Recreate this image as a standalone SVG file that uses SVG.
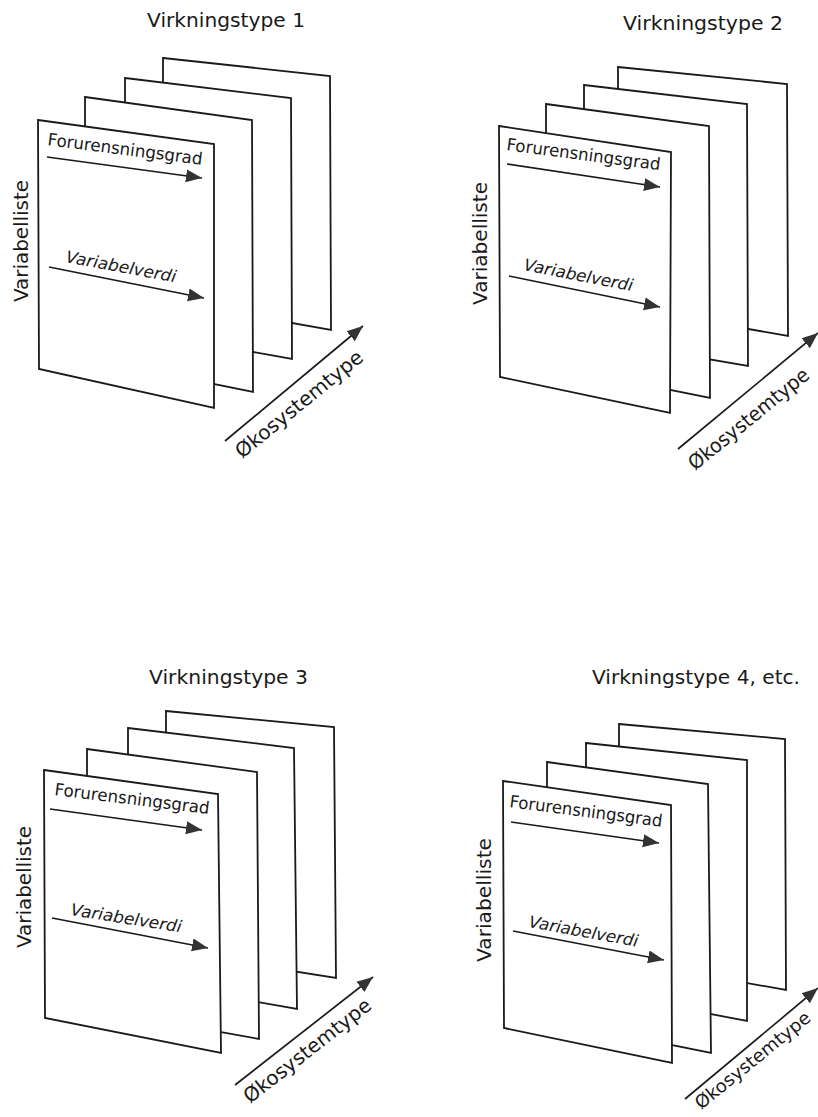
<svg xmlns="http://www.w3.org/2000/svg" width="818" height="1117" viewBox="0 0 818 1117">
<style>
.sheet{fill:#fff;stroke:#1a1a1a;stroke-width:1.8;stroke-linejoin:miter}
.title{font-family:"DejaVu Sans",sans-serif;font-size:19px;fill:#1a1a1a}
.vl{font-family:"DejaVu Sans",sans-serif;font-size:20px;fill:#1a1a1a}
.fg{font-family:"DejaVu Sans",sans-serif;font-size:17px;fill:#1a1a1a}
.vv{font-family:"DejaVu Sans",sans-serif;font-size:16.5px;font-style:italic;fill:#1a1a1a}
.ax{font-family:"DejaVu Sans",sans-serif;font-size:20px;fill:#1a1a1a}
.arr{fill:none;stroke:#1a1a1a;stroke-width:1.7;marker-end:url(#ah)}
</style>
<defs>
<marker id="ah" markerUnits="userSpaceOnUse" markerWidth="18" markerHeight="15" refX="16" refY="7.5" orient="auto">
<path d="M0,1 L16,7.5 L0,14 Z" fill="#333"/>
</marker>
</defs>
<rect width="818" height="1117" fill="#fff"/>

<g id="panel1">
<text class="title" x="147" y="27" textLength="158" lengthAdjust="spacingAndGlyphs">Virkningstype 1</text>
<polygon class="sheet" points="163,58 330,76 331,330 163,300"/>
<polygon class="sheet" points="125,78 291,98 292,359 125,329"/>
<polygon class="sheet" points="85,97 252,120 253,392 85,358"/>
<polygon class="sheet" points="38,120 214,144 214,408 39,369"/>
<text class="fg" transform="translate(47,145) rotate(7.3)" textLength="156" lengthAdjust="spacingAndGlyphs">Forurensningsgrad</text>
<text class="vv" transform="translate(65,262) rotate(10.5)" textLength="112" lengthAdjust="spacingAndGlyphs">Variabelverdi</text>
<text class="vl" transform="translate(28,302) rotate(-90)" textLength="122" lengthAdjust="spacingAndGlyphs">Variabelliste</text>
<text class="ax" transform="translate(242,459) rotate(-39)" textLength="158" lengthAdjust="spacingAndGlyphs">Økosystemtype</text>
</g>

<g id="panel2">
<text class="title" x="623" y="30" textLength="160" lengthAdjust="spacingAndGlyphs">Virkningstype 2</text>
<polygon class="sheet" points="618,67 787,84 788,336 618,306"/>
<polygon class="sheet" points="584,85 747,104 748,366 584,338"/>
<polygon class="sheet" points="546,104 709,126 710,398 546,365"/>
<polygon class="sheet" points="499,126 671,152 670,413 500,377"/>
<text class="fg" transform="translate(506,150) rotate(7.5)" textLength="155" lengthAdjust="spacingAndGlyphs">Forurensningsgrad</text>
<text class="vv" transform="translate(523,270) rotate(11)" textLength="111" lengthAdjust="spacingAndGlyphs">Variabelverdi</text>
<text class="vl" transform="translate(487,305) rotate(-90)" textLength="123" lengthAdjust="spacingAndGlyphs">Variabelliste</text>
<text class="ax" transform="translate(695,471) rotate(-39)" textLength="149" lengthAdjust="spacingAndGlyphs">Økosystemtype</text>
</g>

<g id="panel3">
<text class="title" x="149" y="684" textLength="159" lengthAdjust="spacingAndGlyphs">Virkningstype 3</text>
<polygon class="sheet" points="166,711 334,727 336,978 166,951"/>
<polygon class="sheet" points="128,728 294,748 297,1009 128,979"/>
<polygon class="sheet" points="87,749 257,772 259,1039 87,1008"/>
<polygon class="sheet" points="44,770 218,794 221,1053 45,1018"/>
<text class="fg" transform="translate(54,795) rotate(7)" textLength="156" lengthAdjust="spacingAndGlyphs">Forurensningsgrad</text>
<text class="vv" transform="translate(70,915) rotate(9)" textLength="112" lengthAdjust="spacingAndGlyphs">Variabelverdi</text>
<text class="vl" transform="translate(31,948) rotate(-90)" textLength="122" lengthAdjust="spacingAndGlyphs">Variabelliste</text>
<text class="ax" transform="translate(250,1104) rotate(-38)" textLength="156" lengthAdjust="spacingAndGlyphs">Økosystemtype</text>
</g>

<g id="panel4">
<text class="title" x="592" y="684" textLength="208" lengthAdjust="spacingAndGlyphs">Virkningstype 4, etc.</text>
<polygon class="sheet" points="619,724 785,739 786,990 619,960"/>
<polygon class="sheet" points="586,743 747,760 747,1021 586,990"/>
<polygon class="sheet" points="547,762 708,784 711,1053 547,1020"/>
<polygon class="sheet" points="503,781 671,805 672,1063 504,1028"/>
<text class="fg" transform="translate(509,807) rotate(7.4)" textLength="154" lengthAdjust="spacingAndGlyphs">Forurensningsgrad</text>
<text class="vv" transform="translate(528,927) rotate(10.3)" textLength="111" lengthAdjust="spacingAndGlyphs">Variabelverdi</text>
<text class="vl" transform="translate(491,962) rotate(-90)" textLength="124" lengthAdjust="spacingAndGlyphs">Variabelliste</text>
<text class="ax" style="font-size:18px" transform="translate(701,1110) rotate(-39)" textLength="143" lengthAdjust="spacingAndGlyphs">Økosystemtype</text>
</g>

<g id="connectors">
<line class="arr" x1="47" y1="157" x2="202" y2="178"/>
<line class="arr" x1="49" y1="267" x2="204" y2="298"/>
<line class="arr" x1="225" y1="441" x2="363" y2="326"/>
<line class="arr" x1="507" y1="164" x2="660" y2="187"/>
<line class="arr" x1="509" y1="276" x2="660" y2="307"/>
<line class="arr" x1="678" y1="449" x2="818" y2="333"/>
<line class="arr" x1="50" y1="809" x2="202" y2="830"/>
<line class="arr" x1="52" y1="918" x2="208" y2="948"/>
<line class="arr" x1="235" y1="1085" x2="373" y2="977"/>
<line class="arr" x1="511" y1="822" x2="659" y2="843"/>
<line class="arr" x1="513" y1="931" x2="664" y2="960"/>
<line class="arr" x1="685" y1="1099" x2="818" y2="988"/>
</g>
</svg>
